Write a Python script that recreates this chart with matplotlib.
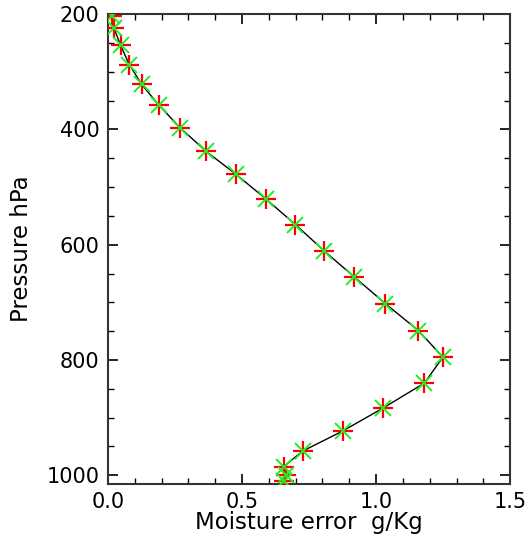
import matplotlib
matplotlib.use("Agg")
import matplotlib.pyplot as plt
from matplotlib.ticker import MultipleLocator, FormatStrFormatter

# moisture error profile (g/Kg) vs pressure (hPa)
pressure = [203, 224, 254, 288, 322, 358, 397, 438, 478, 521, 565, 611,
            656, 702, 749, 795, 840, 883, 923, 958, 985, 1000, 1010]
error = [0.015, 0.022, 0.047, 0.080, 0.126, 0.190, 0.269, 0.366, 0.478,
         0.590, 0.699, 0.807, 0.919, 1.034, 1.158, 1.249, 1.180, 1.027,
         0.876, 0.726, 0.655, 0.665, 0.655]

plt.rcParams['font.family'] = ['DejaVu Sans']

fig = plt.figure(figsize=(5.32, 5.45), dpi=100)
ax = fig.add_axes([0.203, 0.112, 0.756, 0.862])

ax.plot(error, pressure, color='black', linewidth=1.0, zorder=2)
ax.plot(error, pressure, linestyle='none', marker='+', color='red',
        markersize=14, markeredgewidth=1.6, zorder=3)
ax.plot(error, pressure, linestyle='none', marker='x', color='#22ee22',
        markersize=11, markeredgewidth=1.4, zorder=4)

ax.set_xlim(0, 1.5)
ax.set_ylim(1015, 200)

ax.xaxis.set_major_locator(MultipleLocator(0.5))
ax.xaxis.set_minor_locator(MultipleLocator(0.1))
ax.yaxis.set_major_locator(MultipleLocator(200))
ax.yaxis.set_minor_locator(MultipleLocator(50))
ax.xaxis.set_major_formatter(FormatStrFormatter('%.1f'))

ax.tick_params(which='both', direction='in', top=True, right=True,
               labelsize=15, colors='black')
ax.tick_params(which='major', length=7, width=1.2, pad=6)
ax.tick_params(which='minor', length=4, width=1.0)
for s in ax.spines.values():
    s.set_linewidth(1.5)
    s.set_color('#333333')

ax.set_xlabel('Moisture error  g/Kg', fontsize=16.5, labelpad=-1)
ax.set_ylabel('Pressure hPa', fontsize=16.5, labelpad=10)

fig.savefig('out.png', dpi=100)
